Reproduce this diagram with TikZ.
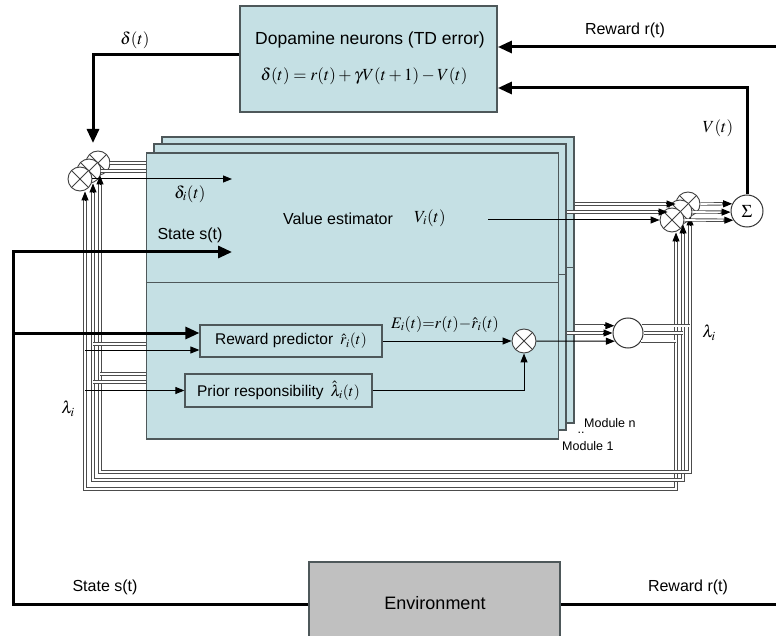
\documentclass[tikz,border=0pt]{standalone}
\usepackage{mathptmx}
\usepackage[no-math]{fontspec}
\setmainfont{Liberation Sans}
\usetikzlibrary{arrows.meta,calc}

\definecolor{modfill}{RGB}{197,224,228}
\definecolor{envfill}{RGB}{192,192,192}
\definecolor{boxedge}{RGB}{78,88,90}

\tikzset{
  txt/.style={font=\fontsize{16}{19}\selectfont, inner sep=0pt},
  mtxt/.style={font=\fontsize{17}{20}\selectfont, inner sep=0pt},
  smalltxt/.style={font=\fontsize{12.5}{15}\selectfont, inner sep=0pt},
  bigline/.style={line width=3pt},
  bigarrow/.style={line width=3pt, -{Triangle[length=14pt,width=12pt]}},
  thinline/.style={line width=1pt},
  thinarrow/.style={line width=1pt, -{Triangle[length=9pt,width=7pt]}},
  dbl/.style={draw=black!70, line width=0.85pt, double=white, double distance=1.6pt},
  modbox/.style={draw=boxedge, line width=1.4pt, fill=modfill, minimum width=412pt,
    minimum height=286pt, inner sep=0pt},
  modsep/.style={draw=boxedge, line width=1.4pt},
  subbox/.style={draw=boxedge, line width=1.2pt, fill=modfill, inner sep=0pt,
    font=\fontsize{15.5}{18}\selectfont},
  mult/.style={circle, draw=black!75, line width=0.9pt, fill=white, minimum size=24pt,
    inner sep=0pt,
    path picture={\draw[black!75, line width=0.9pt]
      (path picture bounding box.south west) -- (path picture bounding box.north east)
      (path picture bounding box.north west) -- (path picture bounding box.south east);}},
  ring/.style={circle, draw=black!80, line width=1pt, fill=white, inner sep=0pt},
}

% double (hollow) line ending in a solid arrow head
\newcommand\dblarrow[2]{%
  \draw[dbl, shorten >=7pt] (#1) -- (#2);
  \draw[thinarrow] ($(#2)!10pt!(#1)$) -- (#2);}

\begin{document}
\begin{tikzpicture}[x=1pt,y=-1pt]
\clip (0,0) rectangle (776,636);
\fill[white] (0,0) rectangle (776,636);

% ---------- TD error block ----------
\node[draw=boxedge, line width=1.8pt, fill=modfill, minimum width=257pt,
  minimum height=106pt, inner sep=0pt] (td) at (368.5,59) {};
\node[txt, font=\fontsize{17.5}{20}\selectfont] (tdtitle) at (370,40)
  {Dopamine neurons (TD error)};
\node[mtxt] (tdeq) at (364,76) {$\delta(t)=r(t)+\gamma V(t+1)-V(t)$};

% ---------- module stack (module n at the back, module 1 in front) ----------
\node[modbox] (modn) at (368,280) {};
\draw[modsep] ($(modn.north west)+(0,131)$) -- ($(modn.north east)+(0,131)$);
\node[modbox] (modm) at (360,287) {};
\draw[modsep] ($(modm.north west)+(0,131)$) -- ($(modm.north east)+(0,131)$);
\node[modbox] (mod1) at (352.5,296) {};
\draw[modsep] ($(mod1.north west)+(0,130)$) -- ($(mod1.north east)+(0,130)$);

\node[smalltxt, anchor=west] (labn) at (584,423) {Module n};
\node[smalltxt] (labdots) at (581,433) {..};
\node[smalltxt, anchor=west] (lab1) at (562,446) {Module 1};

% ---------- multipliers and summation ----------
\node[mult] (L3) at (98,163) {};
\node[mult] (L2) at (89,171) {};
\node[mult] (L1) at (80,179) {};
\node[mult] (C3) at (688,204) {};
\node[mult] (C2) at (680,212) {};
\node[mult] (C1) at (672,220) {};
\node[ring, minimum size=32pt, font=\fontsize{18}{20}\selectfont] (sum) at (747,211) {$\Sigma$};
\node[ring, minimum size=30pt] (lam) at (628,333) {};

% ---------- blocks inside module 1 ----------
\node[subbox, minimum width=182pt, minimum height=32pt] (rp) at (291,341)
  {Reward predictor\, $\hat r_i(t)$};
\node[subbox, minimum width=187pt, minimum height=33pt] (pr) at (278.5,390.5)
  {Prior responsibility\, $\hat\lambda_i(t)$};
\node[mult] (mx) at (524,341) {};

% ---------- environment ----------
\node[draw=boxedge, line width=1.5pt, fill=envfill, minimum width=251pt,
  minimum height=84pt, inner sep=0pt] (env) at (434.5,604) {};
\node[txt, font=\fontsize{18}{21}\selectfont] (envtxt) at (435,603) {Environment};

% ---------- responsibility loops ----------
\coordinate (l1) at (85,489);
\coordinate (l2) at (93,480);
\coordinate (l3) at (100,472);
\coordinate (r1) at (676,489);
\coordinate (r2) at (683,480);
\coordinate (r3) at (690,472);
\path (L1.south -| l1) coordinate (l1t)
      (L2.south -| l2) coordinate (l2t)
      (L3.south -| l3) coordinate (l3t)
      (C1.south -| r1) coordinate (r1t)
      (C2.south -| r2) coordinate (r2t)
      (C3.south -| r3) coordinate (r3t);
\draw[dbl, shorten <=7pt, shorten >=7pt] (l1t) -- (l1) -- (r1) -- (r1t);
\draw[dbl, shorten <=7pt, shorten >=7pt] (l2t) -- (l2) -- (r2) -- (r2t);
\draw[dbl, shorten <=7pt, shorten >=7pt] (l3t) -- (l3) -- (r3) -- (r3t);
\foreach \t in {l1t,l2t,l3t,r1t,r2t,r3t}
  \draw[thinarrow] ($(\t)+(0,10)$) -- (\t);

% lines from the left multipliers into the modules
\draw[dbl] (L3.east) -- (L3.east -| mod1.west);
\draw[dbl] (L2.east) -- (L2.east -| mod1.west);
\coordinate (ditip) at (232,179);
\draw[thinarrow] (L1.east) -- (ditip);

% responsibility signals entering the hidden modules
\coordinate (h1) at (93,344);
\coordinate (h2) at (100,374);
\coordinate (h3) at (93,382);
\draw[dbl] (h1) -- (h1 -| mod1.west);
\draw[dbl] (h2) -- (h2 -| mod1.west);
\draw[dbl] (h3) -- (h3 -| mod1.west);

% responsibility signals entering module 1
\coordinate (rpin) at (85,350);
\draw[thinarrow] (rpin) -- (rpin -| rp.west);
\coordinate (prin) at (85,390.5);
\draw[thinarrow] (prin) -- (prin -| pr.west);

% prediction error and prior responsibility
\draw[thinarrow] (rp.east) -- (mx.west);
\draw[thinarrow] (pr.east) -- (pr.east -| mx) -- (mx.south);

% value outputs to the right multipliers
\coordinate (vstart) at (488,220);
\draw[thinarrow] (vstart) -- (C1.west);
\dblarrow{modm.east |- C2}{C2.west}
\dblarrow{modn.east |- C3}{C3.west}

% weighted values into the sum
\dblarrow{C3.east}{sum.154}
\dblarrow{C2.east}{sum.184}
\dblarrow{C1.east}{sum.214}

% responsibility normalisation
\dblarrow{modn.east |- lam.152}{lam.152}
\dblarrow{modm.east |- lam.west}{lam.west}
\draw[thinarrow] (mx.east) -- (lam.212);
\draw[dbl] (lam.28) -- (lam.28 -| r3);
\draw[dbl] (lam.east) -- (lam.east -| r2);
\draw[dbl] (lam.-32) -- (lam.-32 -| r1);

% ---------- thick signal lines ----------
\coordinate (rin) at (776,47);
\draw[bigarrow] (rin) -- (rin -| td.east);
\coordinate (vtop) at (747,88);
\draw[bigarrow] (sum.north) -- (vtop) -- (vtop -| td.east);
\coordinate (dturn) at (93,55);
\coordinate (dtip) at (93,143);
\draw[bigarrow] (dturn -| td.west) -- (dturn) -- (dtip);
\coordinate (sbot) at (13,604);
\coordinate (stop) at (13,252);
\coordinate (stip) at (232,252);
\draw[bigarrow] (env.west) -- (sbot) -- (stop) -- (stip);
\coordinate (sbranch) at (13,333);
\draw[bigarrow] (sbranch) -- (sbranch -| rp.west);
\coordinate (rout) at (776,604);
\draw[bigline] (env.east) -- (rout);

% ---------- labels ----------
\node[mtxt] (dlab) at (135,40) {$\delta(t)$};
\node[txt] (rlab) at (625,30) {Reward r(t)};
\node[mtxt] (vlab) at (718,128) {$V(t)$};
\node[mtxt] (dilab) at (190,194) {$\delta_i(t)$};
\node[txt] (slab) at (190,235) {State s(t)};
\node[txt] (velab) at (338,219) {Value estimator};
\node[mtxt] (vilab) at (430,218) {$V_i(t)$};
\node[mtxt, font=\fontsize{16}{19}\selectfont] (elab) at (445,324)
  {$E_i(t){=}r(t){-}\hat r_i(t)$};
\node[mtxt] (lamL) at (68,409) {$\lambda_i$};
\node[mtxt] (lamR) at (709,333) {$\lambda_i$};
\node[txt] (slab2) at (105,587) {State s(t)};
\node[txt] (rlab2) at (688,587) {Reward r(t)};
\end{tikzpicture}
\end{document}
